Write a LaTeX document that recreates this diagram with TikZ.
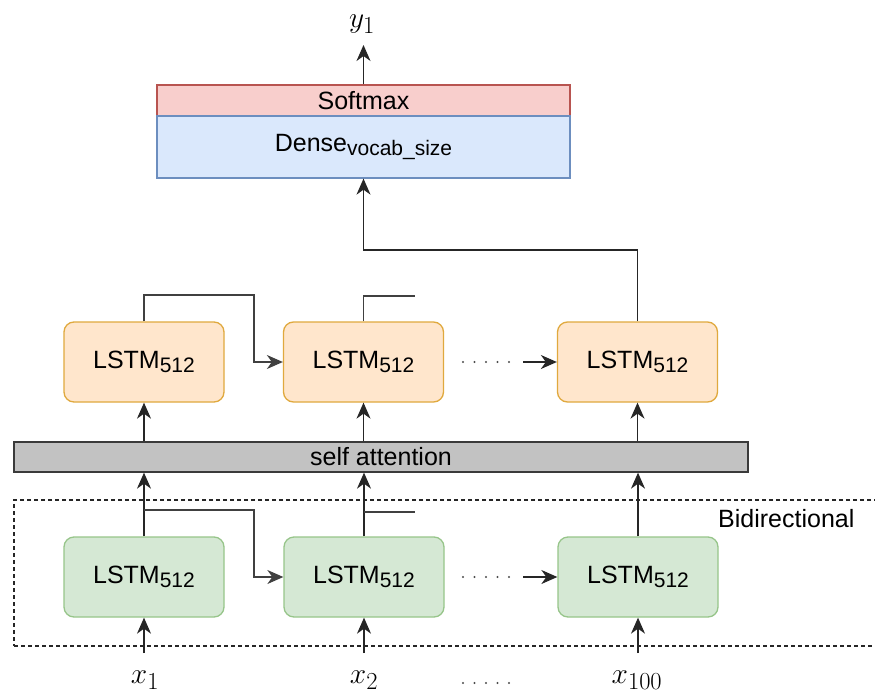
\documentclass[tikz,border=0pt]{standalone}
\usepackage{graphicx}
\usepackage[no-math]{fontspec}
\newfontfamily\arialf{Liberation Sans}
\usetikzlibrary{arrows.meta}

\definecolor{softfill}{HTML}{F8CECC}
\definecolor{softline}{HTML}{B85450}
\definecolor{densefill}{HTML}{DAE8FC}
\definecolor{denseline}{HTML}{6C8EBF}
\definecolor{topfill}{HTML}{FFE6CC}
\definecolor{topline}{HTML}{E0A93E}
\definecolor{botfill}{HTML}{D5E8D4}
\definecolor{botline}{HTML}{97C58A}
\definecolor{attfill}{HTML}{C2C2C2}
\definecolor{attline}{HTML}{3A3A3A}

% smaller, lowered index text in the sans face
\newcommand\lowsub[1]{\raisebox{-4pt}{\fontsize{21}{24}\selectfont #1}}
% enlarged math label
\newcommand\biglbl[1]{\scalebox{1.18}{$#1$}}

\tikzset{
  txt/.style={font=\arialf\fontsize{25}{30}\selectfont, text=black, inner sep=0pt},
  mathlbl/.style={font=\fontsize{28}{32}\selectfont, inner sep=0pt},
  flatbox/.style={txt, draw, line width=1.3pt, minimum width=413pt},
  lstmbox/.style={txt, rounded corners=10pt, line width=1.3pt,
    minimum width=160pt, minimum height=80pt},
  lstmtop/.style={lstmbox, draw=topline, fill=topfill},
  lstmbot/.style={lstmbox, draw=botline, fill=botfill},
  tip/.style={-{Stealth[length=16pt,width=14pt,inset=5pt]}},
  conn/.style={line width=1.3pt, draw=black!85, tip},
  route/.style={line width=1.3pt, draw=black!75},
  dotrow/.style={line width=2.4pt, line cap=round, draw=black!70,
    dash pattern=on 0pt off 11.5pt},
}

\begin{document}
\begin{tikzpicture}[x=1pt,y=-1pt]
\useasboundingbox (0,0) rectangle (875,693);
\fill[white] (0,0) rectangle (875,693);

% output head
\node[flatbox, draw=softline, fill=softfill, minimum height=31pt] (soft) at (363.5,100.5) {Softmax};
\node[flatbox, draw=denseline, fill=densefill, minimum height=62pt] (dense) at (363.5,147) {Dense\lowsub{vocab\_size}};
\node[mathlbl] (y1) at (362,24) {\biglbl{y_1}};
\coordinate (ytip) at (363.5,45);
\draw[conn] (soft.north) -- (ytip);

% upper LSTM row
\node[lstmtop] (t1) at (144,362) {LSTM\lowsub{512}};
\node[lstmtop] (t2) at (363.5,362) {LSTM\lowsub{512}};
\node[lstmtop] (t3) at (637.5,362) {LSTM\lowsub{512}};

% self attention bar
\node[txt, draw=attline, fill=attfill, line width=1.3pt, minimum width=734pt, minimum height=30pt] (att) at (381,457) {self attention};

% bidirectional frame
\node[draw=black!85, line width=1.3pt, dash pattern=on 4pt off 3pt, minimum width=870pt, minimum height=146pt, inner sep=0pt] (bi) at (449,573) {};
\node[txt, anchor=west] (bilbl) at (718,519) {Bidirectional};

% lower LSTM row
\node[lstmbot] (b1) at (144,577) {LSTM\lowsub{512}};
\node[lstmbot] (b2) at (364,577) {LSTM\lowsub{512}};
\node[lstmbot] (b3) at (638,577) {LSTM\lowsub{512}};

% inputs
\node[mathlbl] (x1) at (145,680) {\biglbl{x_1}};
\node[mathlbl] (x2) at (364,680) {\biglbl{x_2}};
\node[mathlbl] (x100) at (637,680) {\biglbl{x_{100}}};
\coordinate (x1a) at (144,653);
\coordinate (x2a) at (364,653);
\coordinate (x100a) at (638,653);
\draw[conn] (x1a) -- (b1.south);
\draw[conn] (x2a) -- (b2.south);
\draw[conn] (x100a) -- (b3.south);
\draw[dotrow] (463,683) -- (510,683);

% lower row into the attention bar
\draw[conn] (b1.north) -- (b1.north |- att.south);
\draw[conn] (b2.north) -- (b2.north |- att.south);
\draw[conn] (b3.north) -- (b3.north |- att.south);

% lower row recurrence
\coordinate (bj1) at (144,510);
\coordinate (bk1) at (254,577);
\draw[route, tip] (bj1) -| (bk1) -- (b2.west);
\coordinate (bj2) at (364,512);
\coordinate (bs2) at (415,512);
\draw[route] (bj2) -- (bs2);
\draw[dotrow] (463,577) -- (510,577);
\coordinate (bd3) at (523,577);
\draw[conn] (bd3) -- (b3.west);

% attention bar into the upper row
\draw[conn] (t1.south |- att.north) -- (t1.south);
\draw[conn] (t2.south |- att.north) -- (t2.south);
\draw[conn] (t3.south |- att.north) -- (t3.south);

% upper row recurrence
\coordinate (tk1) at (254,295);
\draw[route, tip] (t1.north) |- (tk1) |- (t2.west);
\coordinate (ts2) at (415,296);
\draw[route] (t2.north) |- (ts2);
\draw[dotrow] (463,362) -- (510,362);
\coordinate (td3) at (523,362);
\draw[conn] (td3) -- (t3.west);

% last step up to the dense layer
\coordinate (tk3) at (363.5,250);
\draw[conn] (t3.north) |- (tk3) -- (dense.south);
\end{tikzpicture}
\end{document}
